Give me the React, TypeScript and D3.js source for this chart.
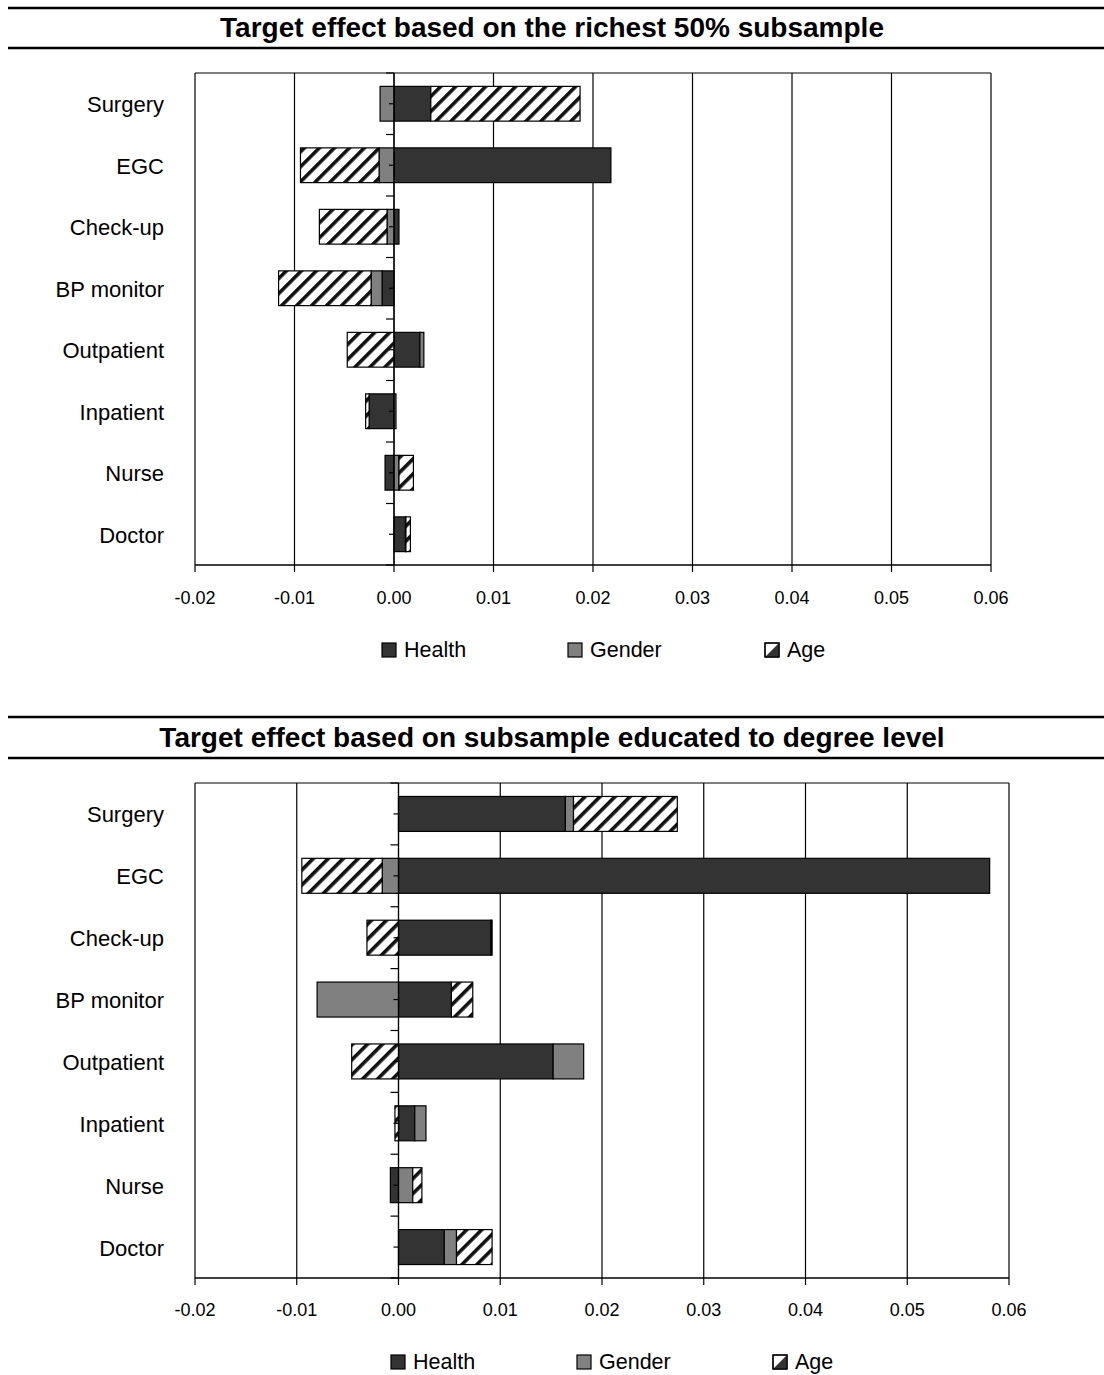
import React from "react";
import * as d3 from "d3";

const categories = ["Surgery", "EGC", "Check-up", "BP monitor", "Outpatient", "Inpatient", "Nurse", "Doctor"];
const seriesNames = ["Health", "Gender", "Age"];
const xTicks = [-0.02, -0.01, 0.0, 0.01, 0.02, 0.03, 0.04, 0.05, 0.06];

const richHealth = [0.0037, 0.0218, 0.0005, -0.0012, 0.0026, -0.0025, -0.0009, 0.00115];
const richGender = [-0.0014, -0.0015, -0.0007, -0.0011, 0.0004, 0.0002, 0.0005, 0.00005];
const richAge = [0.0150, -0.0079, -0.0068, -0.0093, -0.0047, -0.00035, 0.00145, 0.00045];

const degHealth = [0.0164, 0.0581, 0.0091, 0.0052, 0.0152, 0.0016, -0.0008, 0.0045];
const degGender = [0.0008, -0.0016, 0.0001, -0.0080, 0.0030, 0.0011, 0.0014, 0.0012];
const degAge = [0.0102, -0.0079, -0.0031, 0.0021, -0.0046, -0.00035, 0.0009, 0.0035];

const FONT = "'Liberation Sans', Arial, sans-serif";
const fills = ["#333333", "#808080", "url(#hatch)"];
const fmt = (t: number) => d3.format(".2f")(t).replace("\u2212", "-");

type ChartProps = {
  title: string;
  health: number[];
  gender: number[];
  age: number[];
  x0: number;
  x1: number;
  y0: number;
  y1: number;
  lineTop: number;
  lineBottom: number;
  titleY: number;
  tickLabelY: number;
  legendY: number;
  legendX: number[];
};

function Chart(p: ChartProps) {
  const x = d3.scaleLinear().domain([-0.02, 0.06]).range([p.x0, p.x1]);
  const y = d3.scaleBand<string>().domain(categories).range([p.y0, p.y1]).paddingInner(0.435).paddingOuter(0.2175);
  const step = y.step();
  const series = [p.health, p.gender, p.age];
  const segs: { key: string; x: number; w: number; y: number; h: number; fill: string }[] = [];
  categories.forEach((c, i) => {
    let pos = 0;
    let neg = 0;
    series.forEach((s, si) => {
      const v = s[i];
      let a: number, b: number;
      if (v >= 0) {
        a = pos;
        b = pos + v;
        pos = b;
      } else {
        a = neg + v;
        b = neg;
        neg = a;
      }
      segs.push({ key: c + si, x: x(a), w: x(b) - x(a), y: y(c)!, h: y.bandwidth(), fill: fills[si] });
    });
  });
  const zx = x(0);
  const boundaries = d3.range(categories.length + 1).map((k) => p.y0 + k * step);
  return (
    <g>
      <line x1={8} x2={1104} y1={p.lineTop} y2={p.lineTop} stroke="#000" strokeWidth={2.5} />
      <line x1={8} x2={1104} y1={p.lineBottom} y2={p.lineBottom} stroke="#000" strokeWidth={2.5} />
      <text x={552} y={p.titleY} textAnchor="middle" dominantBaseline="central" fontFamily={FONT} fontWeight="bold" fontSize={28}>
        {p.title}
      </text>
      {xTicks.map((t) => (
        <line key={"g" + t} x1={x(t)} x2={x(t)} y1={p.y0} y2={p.y1} stroke="#000" strokeWidth={1.2} />
      ))}
      <line x1={p.x0} x2={p.x1} y1={p.y0} y2={p.y0} stroke="#000" strokeWidth={1.2} />
      {segs.map((s) => (
        <rect key={s.key} x={s.x} y={s.y} width={Math.max(0, s.w)} height={s.h} fill={s.fill} stroke="#000" strokeWidth={1.2} />
      ))}
      <line x1={zx} x2={zx} y1={p.y0} y2={p.y1} stroke="#000" strokeWidth={1.2} />
      {boundaries.map((b, k) => (
        <line key={"bt" + k} x1={zx - 8} x2={zx} y1={b} y2={b} stroke="#000" strokeWidth={1.2} />
      ))}
      {categories.map((c) => (
        <line key={"ct" + c} x1={zx - 5} x2={zx} y1={y(c)! + y.bandwidth() / 2} y2={y(c)! + y.bandwidth() / 2} stroke="#000" strokeWidth={1.2} />
      ))}
      <line x1={p.x0} x2={p.x1} y1={p.y1} y2={p.y1} stroke="#000" strokeWidth={1.5} />
      {xTicks.map((t) => (
        <g key={"t" + t}>
          <line x1={x(t)} x2={x(t)} y1={p.y1} y2={p.y1 + 7} stroke="#000" strokeWidth={1.2} />
          <text x={x(t)} y={p.tickLabelY} textAnchor="middle" dominantBaseline="central" fontFamily={FONT} fontSize={18}>
            {fmt(t)}
          </text>
        </g>
      ))}
      {categories.map((c) => (
        <text key={"l" + c} x={164} y={y(c)! + y.bandwidth() / 2 + 1} textAnchor="end" dominantBaseline="central" fontFamily={FONT} fontSize={22}>
          {c}
        </text>
      ))}
      {seriesNames.map((n, i) => (
        <g key={"lg" + n} transform={`translate(${p.legendX[i]},${p.legendY})`}>
          {i < 2 ? (
            <rect x={0} y={-7} width={14} height={14} fill={fills[i]} stroke="#000" strokeWidth={1.2} />
          ) : (
            <g>
              <rect x={0} y={-7} width={14} height={14} fill="#fff" stroke="#000" strokeWidth={1.2} />
              <polygon points="14,-7 14,7 0,7" fill="#333" />
              <rect x={0} y={-7} width={14} height={14} fill="none" stroke="#000" strokeWidth={1.2} />
            </g>
          )}
          <text x={22} y={0} dominantBaseline="central" fontFamily={FONT} fontSize={21.5}>
            {n}
          </text>
        </g>
      ))}
    </g>
  );
}

export default function App() {
  return (
    <svg width={1104} height={1375} style={{ position: "absolute", left: 0, top: 0, background: "#fff" }}>
      <defs>
        <pattern id="hatch" patternUnits="userSpaceOnUse" width={10.6} height={10.6} patternTransform="rotate(45)">
          <rect x={0} y={0} width={10.6} height={10.6} fill="#fff" />
          <rect x={0} y={0} width={3.6} height={10.6} fill="#111" />
        </pattern>
      </defs>
      <rect x={0} y={0} width={1104} height={1375} fill="#fff" />
      <Chart
        title="Target effect based on the richest 50% subsample"
        health={richHealth}
        gender={richGender}
        age={richAge}
        x0={195}
        x1={991}
        y0={73}
        y1={565}
        lineTop={8}
        lineBottom={48}
        titleY={27}
        tickLabelY={598}
        legendY={650}
        legendX={[382, 568, 765]}
      />
      <Chart
        title="Target effect based on subsample educated to degree level"
        health={degHealth}
        gender={degGender}
        age={degAge}
        x0={195}
        x1={1009}
        y0={783}
        y1={1278}
        lineTop={717}
        lineBottom={758}
        titleY={737}
        tickLabelY={1310}
        legendY={1362}
        legendX={[391, 577, 773]}
      />
    </svg>
  );
}
